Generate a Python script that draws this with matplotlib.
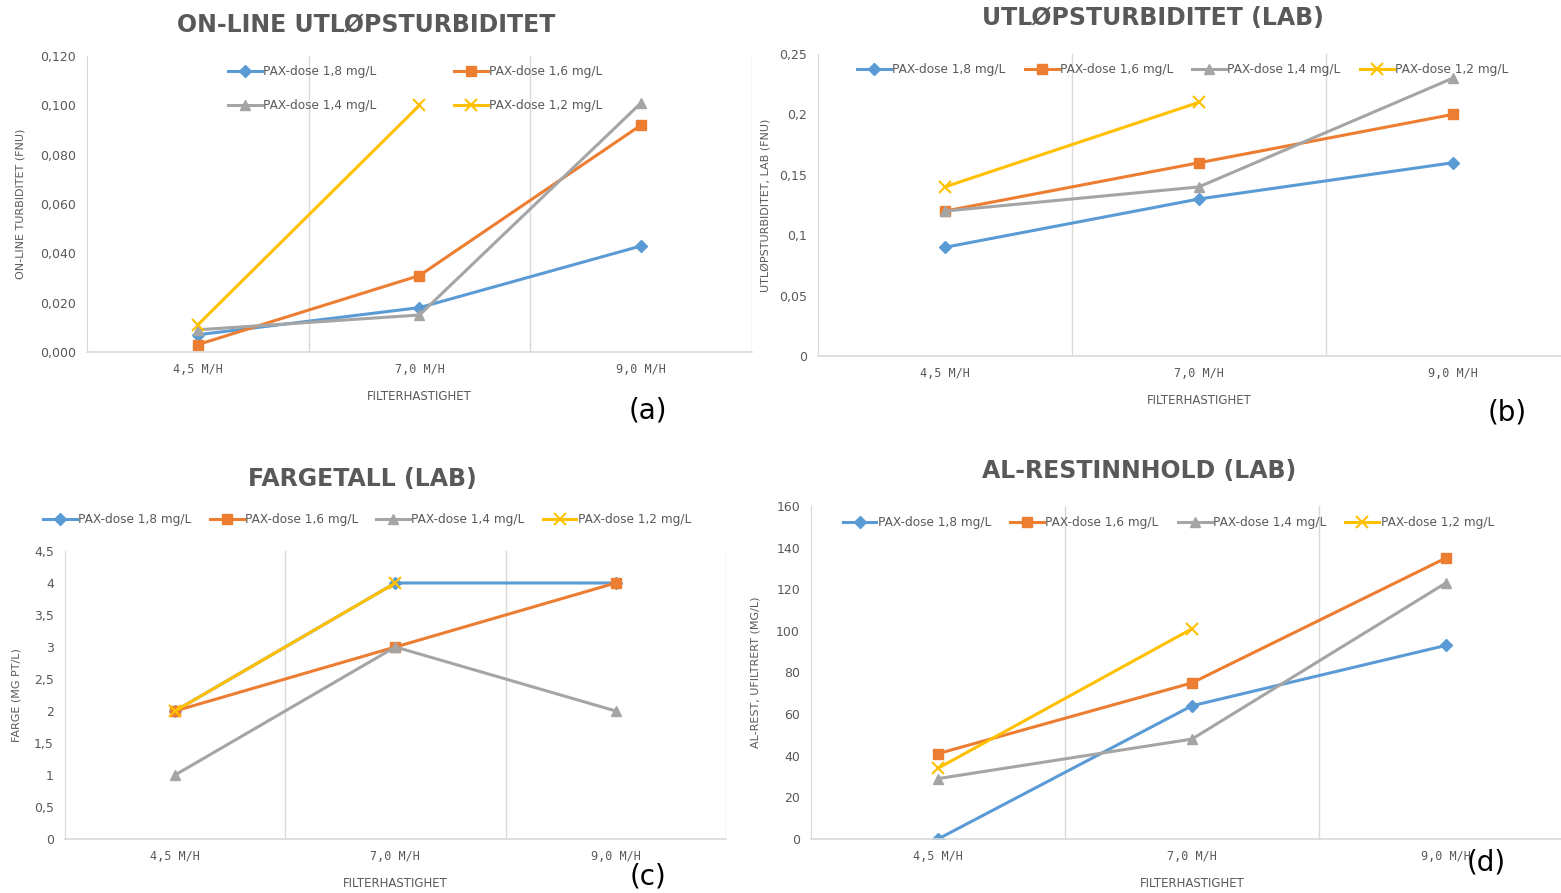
import matplotlib
matplotlib.use('Agg')
import matplotlib.pyplot as plt
from matplotlib.ticker import FuncFormatter

plt.rcParams['font.family'] = ['Liberation Sans Narrow', 'DejaVu Sans']

# 공통 데이터
kategorier = ['4,5 M/H', '7,0 M/H', '9,0 M/H']
serier = ['PAX-dose 1,8 mg/L', 'PAX-dose 1,6 mg/L', 'PAX-dose 1,4 mg/L', 'PAX-dose 1,2 mg/L']
farger = ['#5B9BD5', '#ED7D31', '#A5A5A5', '#FFC000']
markorer = ['D', 's', '^', 'x']

# (a) on-line utløpsturbiditet
online_18 = [0.007, 0.018, 0.043]
online_16 = [0.003, 0.031, 0.092]
online_14 = [0.009, 0.015, 0.101]
online_12 = [0.011, 0.100]

# (b) utløpsturbiditet lab
lab_18 = [0.09, 0.13, 0.16]
lab_16 = [0.12, 0.16, 0.20]
lab_14 = [0.12, 0.14, 0.23]
lab_12 = [0.14, 0.21]

# (c) fargetall
farge_18 = [2, 4, 4]
farge_16 = [2, 3, 4]
farge_14 = [1, 3, 2]
farge_12 = [2, 4]

# (d) al-rest
al_18 = [0, 64, 93]
al_16 = [41, 75, 135]
al_14 = [29, 48, 123]
al_12 = [34, 101]

GRA = '#595959'
LINJE = '#D9D9D9'


def tegn_panel(ax, data, tittel, ylabel, ylim, ystep, fmt, pad):
    for verdier, navn, farge, mk in zip(data, serier, farger, markorer):
        ms = 8 if mk == 'x' else (6 if mk == 'D' else 7)
        ax.plot(range(len(verdier)), verdier, color=farge, marker=mk, ms=ms,
                mew=1.5 if mk == 'x' else 1, lw=2.2, label=navn)
    ax.set_xlim(-0.5, 2.5)
    ax.set_ylim(*ylim)
    ax.set_xticks(range(3))
    ax.set_xticklabels(kategorier)
    n = int(round((ylim[1] - ylim[0]) / ystep))
    ax.set_yticks([ylim[0] + i * ystep for i in range(n + 1)])
    ax.yaxis.set_major_formatter(FuncFormatter(fmt))
    for x in [0.5, 1.5, 2.5]:
        ax.axvline(x, color=LINJE, lw=1, zorder=0)
    for s in ['top', 'right']:
        ax.spines[s].set_visible(False)
    ax.spines['left'].set_color(LINJE)
    ax.spines['bottom'].set_color(LINJE)
    ax.spines['bottom'].set_linewidth(1.2)
    ax.tick_params(length=0, colors=GRA, labelsize=9, pad=8)
    for lbl in ax.get_xticklabels():
        lbl.set_family(['DejaVu Sans Mono', 'DejaVu Sans'])
        lbl.set_fontsize(8.5)
    ax.set_xlabel('FILTERHASTIGHET', color=GRA, fontsize=8.5, labelpad=10)
    ax.set_ylabel(ylabel, color=GRA, fontsize=8, family=['DejaVu Sans'])
    ax.set_title(tittel, color=GRA, fontsize=17, fontweight='bold', pad=pad[0], x=pad[1])


def komma(dec):
    def f(v, pos):
        return f'{v:.{dec}f}'.replace('.', ',')
    return f


def generell(v, pos):
    s = f'{v:.2f}'.rstrip('0').rstrip('.')
    return s.replace('.', ',')


fig = plt.figure(figsize=(15.61, 8.93), dpi=100)

ax_a = fig.add_axes([0.0557, 0.6058, 0.4260, 0.3315])
ax_b = fig.add_axes([0.5240, 0.6013, 0.4880, 0.3382])
ax_c = fig.add_axes([0.0416, 0.0605, 0.4234, 0.3225])
ax_d = fig.add_axes([0.5196, 0.0605, 0.4880, 0.3729])

tegn_panel(ax_a, [online_18, online_16, online_14, online_12],
           'ON-LINE UTLØPSTURBIDITET', 'ON-LINE TURBIDITET (FNU)',
           (0, 0.12), 0.02, komma(3), (17, 0.42))
tegn_panel(ax_b, [lab_18, lab_16, lab_14, lab_12],
           'UTLØPSTURBIDITET (LAB)', 'UTLØPSTURBIDITET, LAB (FNU)',
           (0, 0.25), 0.05, generell, (21, 0.44))
tegn_panel(ax_c, [farge_18, farge_16, farge_14, farge_12],
           'FARGETALL (LAB)', 'FARGE (MG PT/L)',
           (0, 4.5), 0.5, generell, (47, 0.45))
tegn_panel(ax_d, [al_18, al_16, al_14, al_12],
           'AL-RESTINNHOLD (LAB)', 'AL-REST, UFILTRERT (MG/L)',
           (0, 160), 20, generell, (20, 0.43))

leg_kw = dict(frameon=False, fontsize=8.7, handlelength=2.8, labelcolor=GRA,
              handletextpad=0.1, borderaxespad=0)

h, l = ax_a.get_legend_handles_labels()
orden = [0, 2, 1, 3]
ax_a.legend([h[i] for i in orden], [l[i] for i in orden], ncol=2,
            loc='upper left', bbox_to_anchor=(0.205, 0.985), columnspacing=6.4,
            labelspacing=1.75, **leg_kw)
ax_b.legend(ncol=4, loc='upper left', bbox_to_anchor=(0.045, 0.985),
            columnspacing=1.6, **leg_kw)
ax_c.legend(ncol=4, loc='lower left', bbox_to_anchor=(-0.04, 1.07),
            columnspacing=1.5, **leg_kw)
ax_d.legend(ncol=4, loc='upper left', bbox_to_anchor=(0.035, 0.985),
            columnspacing=1.6, **leg_kw)

ax_a.yaxis.set_label_coords(-0.093, 0.5)
ax_b.yaxis.set_label_coords(-0.062, 0.5)
ax_c.yaxis.set_label_coords(-0.065, 0.5)
ax_d.yaxis.set_label_coords(-0.066, 0.5)

for tekst, x, y in [('(a)', 648, 411), ('(b)', 1507, 413), ('(c)', 648, 877), ('(d)', 1486, 862)]:
    fig.text(x / 1561, 1 - y / 893, tekst, fontsize=20, color='black',
             ha='center', va='center')

fig.savefig('out.png', dpi=100)
